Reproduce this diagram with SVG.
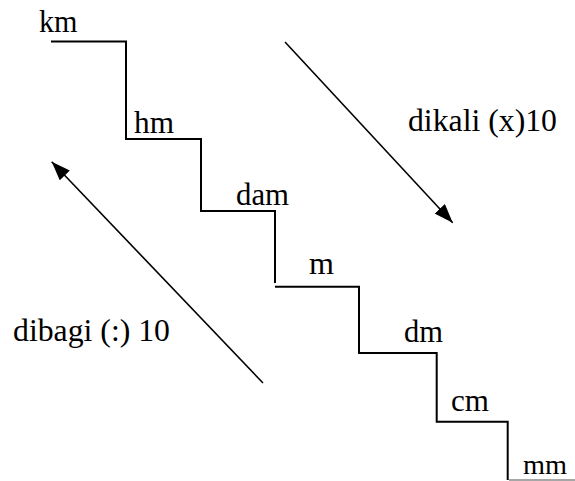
<svg xmlns="http://www.w3.org/2000/svg" width="575" height="481" viewBox="0 0 575 481">
<style>
text{font-family:"Liberation Serif","Times New Roman",serif;font-size:31px;fill:#000}
.stair{fill:none;stroke:#000;stroke-width:2}
.arr{fill:none;stroke:#000;stroke-width:1.6}
</style>
<defs>
<marker id="ah" markerUnits="userSpaceOnUse" markerWidth="19" markerHeight="14" viewBox="0 0 19 14" refX="19" refY="7" orient="auto">
<path d="M0,0 L19,7 L0,14 z" fill="#000"/>
</marker>
</defs>
<rect width="575" height="481" fill="#fff"/>
<g id="stairs">
<path class="stair" d="M51,41.5 H126 V139 H201 V211 H275 V283"/>
<path class="stair" d="M275,286.7 H359 V353 H436.7 V421.7 H507.7 V480"/>
<line x1="509" y1="480" x2="575" y2="480" stroke="#888" stroke-width="1.5"/>
</g>
<g id="km"><text x="39" y="32" textLength="38.5" lengthAdjust="spacingAndGlyphs">km</text></g>
<g id="hm"><text x="134" y="133" textLength="40" lengthAdjust="spacingAndGlyphs">hm</text></g>
<g id="dam"><text x="236" y="205" textLength="53" lengthAdjust="spacingAndGlyphs">dam</text></g>
<g id="m"><text x="309" y="274" textLength="25" lengthAdjust="spacingAndGlyphs">m</text></g>
<g id="dm"><text x="404" y="342" textLength="39" lengthAdjust="spacingAndGlyphs">dm</text></g>
<g id="cm"><text x="451" y="411" textLength="38" lengthAdjust="spacingAndGlyphs">cm</text></g>
<g id="mm"><text x="523" y="474" style="font-size:28px" textLength="44" lengthAdjust="spacingAndGlyphs">mm</text></g>
<g id="connectors">
<line class="arr" x1="285" y1="42" x2="452.7" y2="222.7" marker-end="url(#ah)"/>
<line class="arr" x1="263" y1="383" x2="51.7" y2="161.7" marker-end="url(#ah)"/>
</g>
<g id="label-kali"><text x="408" y="131" textLength="149" lengthAdjust="spacingAndGlyphs">dikali (x)10</text></g>
<g id="label-bagi"><text x="13" y="341" textLength="157" lengthAdjust="spacingAndGlyphs">dibagi (:) 10</text></g>
</svg>
